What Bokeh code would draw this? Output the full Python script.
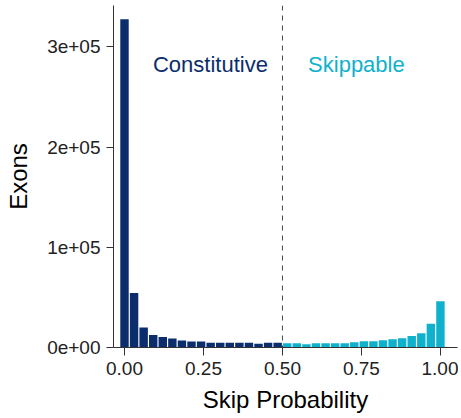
from bokeh.plotting import figure
from bokeh.models import ColumnDataSource, FixedTicker, Span, Range1d
from bokeh.core.properties import value
from bokeh.embed import file_html
from bokeh.resources import INLINE

# Histogram: 34 bins, centers at k/33
n_bins = 34
constitutive_counts = [327500, 54500, 20000, 12500, 10500, 8900, 7000, 6000, 6000, 4800,
                       4800, 4800, 4800, 4800, 3800, 4800, 4800]
skippable_counts = [4300, 4300, 3300, 4300, 4300, 4300, 4300, 5300, 6300, 6300,
                    7300, 8200, 9200, 11500, 14200, 23800, 46100]
counts = constitutive_counts + skippable_counts
centers = [k / (n_bins - 1) for k in range(n_bins)]
groups = ["Constitutive"] * len(constitutive_counts) + ["Skippable"] * len(skippable_counts)

dark = "#0B2D6C"
teal = "#10B1CD"
colors = [dark if g == "Constitutive" else teal for g in groups]

x_ticks = [0.0, 0.25, 0.5, 0.75, 1.0]
x_tick_labels = ["0.00", "0.25", "0.50", "0.75", "1.00"]
y_ticks = [0, 100000, 200000, 300000]
y_tick_labels = ["0e+00", "1e+05", "2e+05", "3e+05"]

label_x = [0.272, 0.734]
label_y = [282000, 282000]
label_text = ["Constitutive", "Skippable"]
label_colors = [dark, teal]

FONT = "Liberation Sans"

p = figure(width=458, height=416, output_backend="svg", toolbar_location=None,
           x_range=Range1d(-0.0348, 1.054), y_range=Range1d(0, 341300),
           min_border_left=113, min_border_right=1, min_border_top=5, min_border_bottom=69)
p.outline_line_color = None
p.grid.grid_line_color = None
p.background_fill_color = "white"

src = ColumnDataSource(dict(x=centers, top=counts, color=colors))
p.vbar(x="x", top="top", bottom=0, width=0.88 / (n_bins - 1), fill_color="color",
       line_color=None, source=src)

p.add_layout(Span(location=0.5, dimension="height", line_color="#444444",
                  line_dash="5 5", line_width=1))

lsrc = ColumnDataSource(dict(x=label_x, y=label_y, text=label_text, color=label_colors))
p.text(x="x", y="y", text="text", text_color="color", source=lsrc,
       text_font=value(FONT), text_font_size="22px", text_align="center",
       text_baseline="middle")

for ax in (p.xaxis[0], p.yaxis[0]):
    ax.axis_line_color = "#333333"
    ax.major_tick_line_color = "#333333"
    ax.minor_tick_line_color = None
    ax.major_tick_in = 0
    ax.major_tick_out = 7
    ax.major_label_text_font = FONT
    ax.major_label_text_font_size = "19px"
    ax.major_label_text_color = "#222222"
    ax.axis_label_text_font = FONT
    ax.axis_label_text_font_size = "24px"
    ax.axis_label_text_font_style = "normal"
    ax.axis_label_text_color = "#000000"

p.xaxis.major_tick_out = 8
p.xaxis.ticker = FixedTicker(ticks=x_ticks)
p.xaxis.major_label_overrides = dict(zip(x_ticks, x_tick_labels))
p.yaxis.ticker = FixedTicker(ticks=y_ticks)
p.yaxis.major_label_overrides = dict(zip(y_ticks, y_tick_labels))
p.xaxis.axis_label = "Skip Probability"
p.yaxis.axis_label = "Exons"
p.xaxis.major_label_standoff = 6
p.yaxis.major_label_standoff = 6
p.xaxis.axis_label_standoff = 8
p.yaxis.axis_label_standoff = 12

open("out.html", "w").write(file_html(p, INLINE))
